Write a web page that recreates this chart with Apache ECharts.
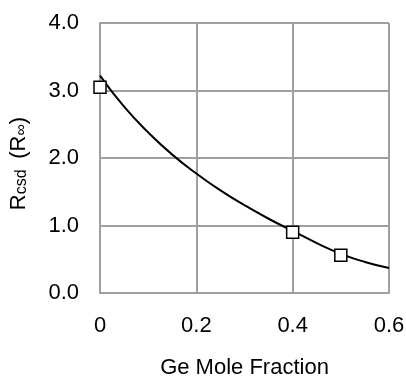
<!DOCTYPE html>
<html>
<head>
<meta charset="utf-8">
<script src="https://cdn.jsdelivr.net/npm/echarts@6/dist/echarts.min.js"></script>
<style>
  html, body { margin: 0; padding: 0; background: #fff; }
  #root { width: 406px; height: 376px; }
</style>
</head>
<body>
<div id="root"></div>
<script>
// fitted curve
var curveX = [0, 0.05, 0.1, 0.15, 0.2, 0.25, 0.3, 0.35, 0.4, 0.45, 0.5, 0.55, 0.6]
var curveY = [3.22, 2.76, 2.38, 2.05, 1.77, 1.52, 1.30, 1.10, 0.92, 0.74, 0.58, 0.46, 0.37]

// measured points
var pointX = [0, 0.4, 0.5]
var pointY = [3.05, 0.90, 0.56]

var xTicks = [0, 0.2, 0.4, 0.6]
var yTicks = [0, 1, 2, 3, 4]

var chart = echarts.init(document.getElementById('root'))

var font = 'Liberation Sans, Arial, sans-serif'
var gridColor = '#a0a0a0'

var option = {
  animation: false,
  grid: { left: 100, right: 17, top: 23, bottom: 83, outerBoundsMode: 'none', containLabel: false },
  xAxis: {
    type: 'value',
    min: xTicks[0],
    max: xTicks[xTicks.length - 1],
    interval: 0.2,
    name: 'Ge Mole Fraction',
    nameLocation: 'middle',
    nameGap: 64,
    nameTextStyle: { fontFamily: font, fontSize: 22, color: '#000' },
    axisLine: { lineStyle: { color: gridColor, width: 2 } },
    axisTick: { show: false },
    splitLine: { lineStyle: { color: gridColor, width: 2 } },
    axisLabel: {
      fontFamily: font, fontSize: 22, color: '#000', margin: 22,
      formatter: function (v) { return v === 0 ? '0' : v.toFixed(1) }
    }
  },
  yAxis: {
    type: 'value',
    min: yTicks[0],
    max: yTicks[yTicks.length - 1],
    interval: 1,
    name: '{m|R}{s|csd }{m| (R}{s|∞}{m|)}',
    nameLocation: 'middle',
    nameGap: 70,
    nameTextStyle: {
      fontFamily: font, color: '#000', padding: [0, 11, 0, 0],
      rich: {
        m: { fontFamily: font, fontSize: 22, color: '#000', lineHeight: 24, verticalAlign: 'bottom' },
        s: { fontFamily: font, fontSize: 16, color: '#000', lineHeight: 16, verticalAlign: 'bottom' }
      }
    },
    axisLine: { show: true, lineStyle: { color: gridColor, width: 2 } },
    axisTick: { show: false },
    splitLine: { lineStyle: { color: gridColor, width: 2 } },
    axisLabel: {
      fontFamily: font, fontSize: 22, color: '#000', margin: 21,
      formatter: function (v) { return v.toFixed(1) }
    }
  },
  series: [
    {
      type: 'line',
      smooth: true,
      showSymbol: false,
      data: curveX.map(function (x, i) { return [x, curveY[i]] }),
      lineStyle: { color: '#000', width: 2 },
      z: 2
    },
    {
      type: 'scatter',
      symbol: 'rect',
      symbolSize: 12,
      data: pointX.map(function (x, i) { return [x, pointY[i]] }),
      itemStyle: { color: '#fff', borderColor: '#000', borderWidth: 1.5, opacity: 1 },
      z: 3
    }
  ]
}

chart.setOption(option)
</script>
</body>
</html>
